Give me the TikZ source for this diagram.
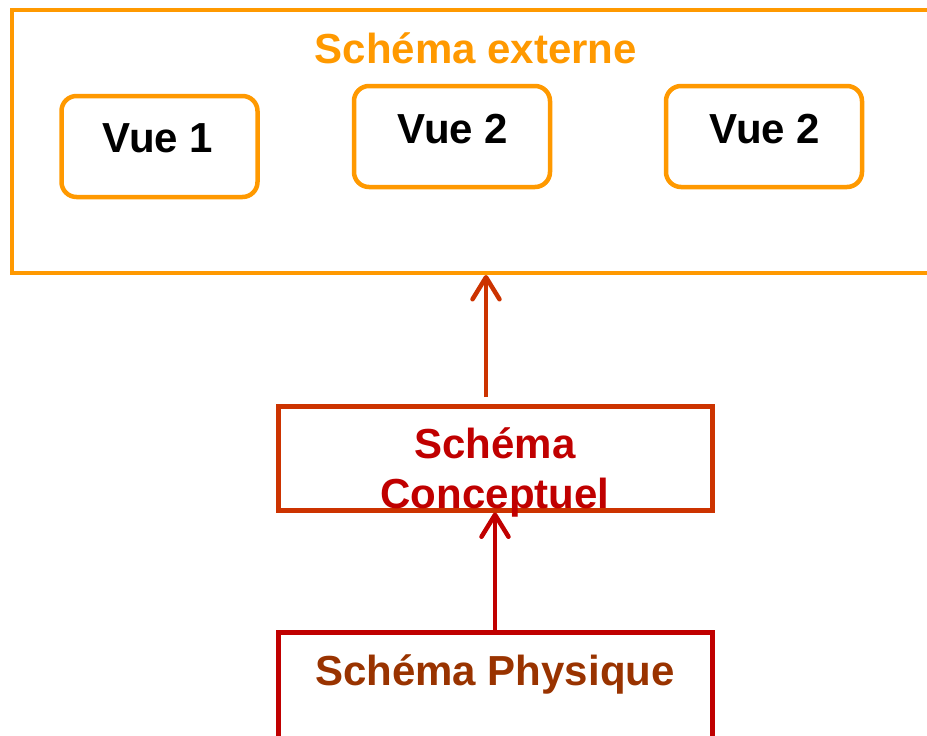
\documentclass[tikz,border=0pt]{standalone}
\usepackage{fontspec}
\setmainfont{Liberation Sans}
\usetikzlibrary{arrows.meta}
\definecolor{orng}{HTML}{FF9900}
\definecolor{rust}{HTML}{CC3300}
\definecolor{dred}{HTML}{C00000}
\definecolor{brwn}{HTML}{993300}
\tikzset{
  vuebox/.style={draw=orng, line width=4.5pt, rounded corners=15pt, minimum width=196pt, minimum height=101pt, inner sep=0pt},
  bigtxt/.style={font=\fontsize{42}{50}\selectfont\bfseries, inner sep=0pt},
  arr/.style={line width=4.5pt, -{Straight Barb[length=22pt,width=27pt,line cap=round,line join=round]}},
}
\begin{document}
\begin{tikzpicture}[x=1pt,y=-1pt]
\useasboundingbox (0,0) rectangle (927,736);
\clip (0,0) rectangle (927,736);
% outer external schema box
\node[draw=orng, line width=4pt, minimum width=930pt, minimum height=263pt, inner sep=0pt] (ext) at (477,141.5) {};
\node[bigtxt, text=orng, anchor=base] (extT) at (476,63) {Schéma externe};
% views
\node[vuebox] (v1) at (159.5,146.5) {};
\node[bigtxt, anchor=base] (v1T) at (158,152) {Vue 1};
\node[vuebox] (v2) at (452,136.5) {};
\node[bigtxt, anchor=base] (v2T) at (453,143) {Vue 2};
\node[vuebox] (v3) at (764,136.5) {};
\node[bigtxt, anchor=base] (v3T) at (765,143) {Vue 2};
% conceptual
\node[draw=rust, line width=5pt, minimum width=434pt, minimum height=104pt, inner sep=0pt] (conc) at (495,458) {};
\node[bigtxt, text=dred, align=center] (concT) at (495,472) {Schéma\\Conceptuel};
% physical
\node[draw=dred, line width=5pt, minimum width=434pt, minimum height=200pt, inner sep=0pt] (phys) at (495,732) {};
\node[bigtxt, text=brwn, anchor=base] (physT) at (495,685) {Schéma Physique};
% arrows
\coordinate (a1s) at (486,397);
\draw[arr, draw=rust] (a1s) -- (a1s |- ext.south);
\draw[arr, draw=dred] (phys.north) -- (conc.south);
\end{tikzpicture}
\end{document}
